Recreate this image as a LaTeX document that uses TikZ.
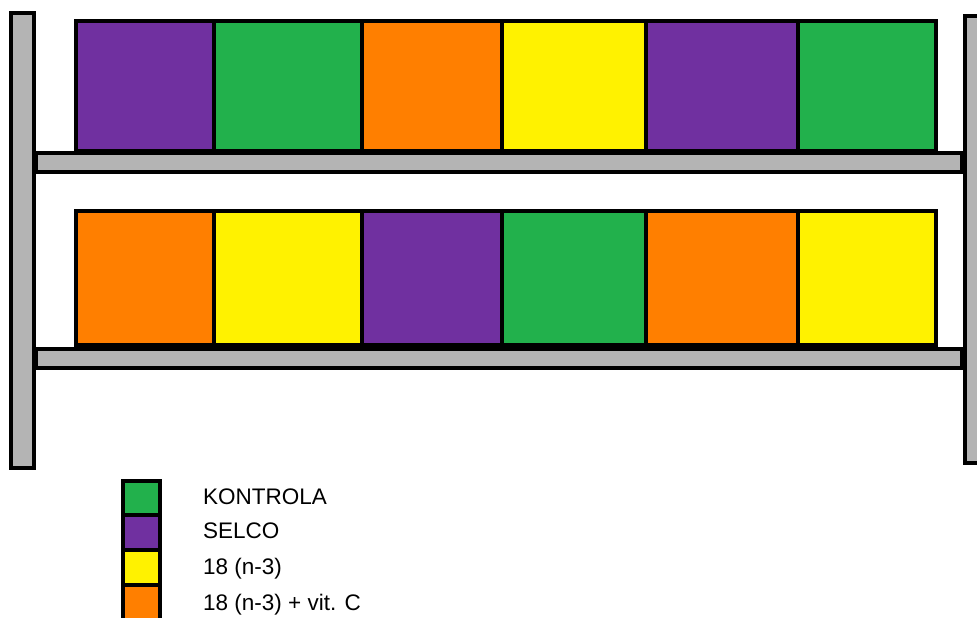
\documentclass[tikz,border=0pt]{standalone}
\usepackage{fontspec}
\setmainfont{Liberation Sans}
\definecolor{cpurple}{HTML}{7030A0}
\definecolor{cgreen}{HTML}{22B14C}
\definecolor{corange}{HTML}{FF7F00}
\definecolor{cyellow}{HTML}{FFF200}
\definecolor{cgray}{HTML}{B4B4B4}
\begin{document}
\begin{tikzpicture}[x=1pt,y=-1pt,
  frame/.style={draw=black,line width=4pt,fill=cgray},
  crate/.style={draw=black,line width=4.5pt},
  lbl/.style={anchor=base west,inner sep=0pt,font=\fontsize{22.5}{27}\selectfont}]
\useasboundingbox (0,0) rectangle (977,618);
\begin{scope}
\clip (0,0) rectangle (977,618);
% posts
\draw[frame] (11,13) rectangle (34,468);
\draw[frame] (965,16) rectangle (995,463);
% shelves
\draw[frame] (36,153) rectangle (962,172);
\draw[frame] (36,349) rectangle (962,368);
% top row
\draw[crate,fill=cpurple] (76,21) rectangle (214,151);
\draw[crate,fill=cgreen]  (214,21) rectangle (362,151);
\draw[crate,fill=corange] (362,21) rectangle (502,151);
\draw[crate,fill=cyellow] (502,21) rectangle (646,151);
\draw[crate,fill=cpurple] (646,21) rectangle (798,151);
\draw[crate,fill=cgreen]  (798,21) rectangle (936,151);
% bottom row
\draw[crate,fill=corange] (76,211) rectangle (214,345);
\draw[crate,fill=cyellow] (214,211) rectangle (362,345);
\draw[crate,fill=cpurple] (362,211) rectangle (502,345);
\draw[crate,fill=cgreen]  (502,211) rectangle (646,345);
\draw[crate,fill=corange] (646,211) rectangle (798,345);
\draw[crate,fill=cyellow] (798,211) rectangle (936,345);
% legend
\draw[crate,fill=cgreen]  (123,481) rectangle (160,515);
\draw[crate,fill=cpurple] (123,515) rectangle (160,550);
\draw[crate,fill=cyellow] (123,550) rectangle (160,585);
\draw[crate,fill=corange] (123,585) rectangle (160,630);
\end{scope}
\node[lbl] (l1) at (203,504) {KONTROLA};
\node[lbl] (l2) at (203,538) {SELCO};
\node[lbl] (l3) at (203,574) {18 (n-3)};
\node[lbl] (l4) at (203,610) {18 (n-3) + vit. C};
\end{tikzpicture}
\end{document}
